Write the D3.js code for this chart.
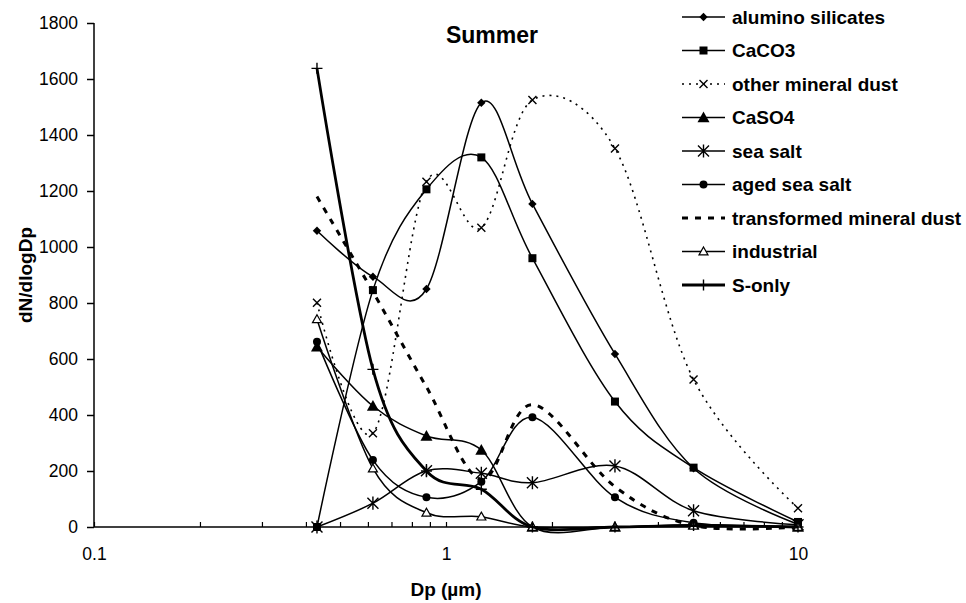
<!DOCTYPE html>
<html>
<head>
<meta charset="utf-8">
<script src="https://cdn.jsdelivr.net/npm/d3@7/dist/d3.min.js"></script>
<style>
  html, body { margin: 0; padding: 0; background: #fff; }
  svg { display: block; font-family: "Liberation Sans", Arial, sans-serif; }
</style>
</head>
<body>
<svg id="chart" width="966" height="603"></svg>
<script>
// ---- data ----
const dp = [0.43, 0.62, 0.88, 1.26, 1.76, 3.02, 5.05, 10];
const aluminoSilicates = [1058, 894, 850, 1515, 1154, 618, 210, 10];
const caco3 = [0, 846, 1206, 1320, 960, 448, 212, 18];
const otherMineralDust = [801, 335, 1233, 1069, 1525, 1352, 527, 67];
const caso4 = [644, 432, 325, 275, 0, 0, 8, 0];
const seaSalt = [0, 85, 201, 192, 158, 218, 58, 8];
const agedSeaSalt = [662, 239, 106, 162, 392, 106, 15, 3];
const transformedMineralDust = [1180, 840, 500, 170, 437, 144, 5, 0];
const industrial = [742, 209, 51, 37, 0, 0, 5, 0];
const sOnly = [1638, 563, 200, 135, 0, 0, 5, 0];
const seriesNames = ["alumino silicates", "CaCO3", "other mineral dust", "CaSO4", "sea salt",
  "aged sea salt", "transformed mineral dust", "industrial", "S-only"];
const yTicks = [0, 200, 400, 600, 800, 1000, 1200, 1400, 1600, 1800];
const xTickLabels = [0.1, 1, 10];
const chartTitle = "Summer";
const xTitle = "Dp (µm)";
const yTitle = "dN/dlogDp";

const seriesValues = [aluminoSilicates, caco3, otherMineralDust, caso4, seaSalt,
  agedSeaSalt, transformedMineralDust, industrial, sOnly];
const styles = [
  {marker: "diamond", width: 1.5, dash: null},
  {marker: "square", width: 1.5, dash: null},
  {marker: "x", width: 1.6, dash: "2,5"},
  {marker: "triangle", width: 1.5, dash: null},
  {marker: "star", width: 1.5, dash: null},
  {marker: "circle", width: 1.5, dash: null},
  {marker: "none", width: 3, dash: "6,7"},
  {marker: "opentriangle", width: 1.5, dash: null},
  {marker: "plus", width: 2.8, dash: null}
];

const svg = d3.select("#chart");
const x = d3.scaleLog().domain([0.1, 10]).range([94, 798]);
const y = d3.scaleLinear().domain([0, 1800]).range([527, 23]);

// y axis
const yAxis = d3.axisLeft(y).tickValues(yTicks).tickSize(7).tickPadding(9).tickFormat(d3.format("d"));
const gy = svg.append("g").attr("transform", `translate(${x(0.1)},0)`).call(yAxis);
gy.selectAll("text").attr("font-size", 17.5).attr("font-family", "Liberation Sans, Arial, sans-serif").attr("fill", "#000");
gy.selectAll("line, path").attr("stroke", "#000").attr("stroke-width", 1.5);
gy.select(".domain").attr("d", `M0,${y(0)}V${y(1800)}`);

// x axis (log, minor ticks inside)
const allTicks = x.ticks();
const xAxis = d3.axisBottom(x).tickValues(allTicks).tickSize(-5).tickPadding(21)
  .tickFormat(d => xTickLabels.includes(+d.toPrecision(3)) ? String(+d.toPrecision(3)) : "");
const gx = svg.append("g").attr("transform", `translate(0,${y(0)})`).call(xAxis);
gx.selectAll("text").attr("font-size", 17.5).attr("font-family", "Liberation Sans, Arial, sans-serif").attr("fill", "#000");
gx.selectAll("line").attr("stroke", "#000").attr("stroke-width", 1.2);
gx.select(".domain").attr("stroke", "#000").attr("stroke-width", 1.5).attr("d", `M${x(0.1)},0H${x(10)}`);

// lines
const line = d3.line().x(d => x(d[0])).y(d => y(d[1])).curve(d3.curveCardinal.tension(0));

function drawMarker(g, type, cx, cy) {
  if (type === "diamond") {
    const s = 4.2;
    g.append("path").attr("d", `M${cx},${cy - s}L${cx + s},${cy}L${cx},${cy + s}L${cx - s},${cy}Z`).attr("fill", "#000");
  } else if (type === "square") {
    g.append("rect").attr("x", cx - 4).attr("y", cy - 4).attr("width", 8).attr("height", 8).attr("fill", "#000");
  } else if (type === "x") {
    const s = 4;
    g.append("path").attr("d", `M${cx - s},${cy - s}L${cx + s},${cy + s}M${cx - s},${cy + s}L${cx + s},${cy - s}`)
      .attr("stroke", "#000").attr("stroke-width", 1.4).attr("fill", "none");
  } else if (type === "triangle") {
    const s = 6;
    g.append("path").attr("d", `M${cx},${cy - s}L${cx + s},${cy + s * 0.8}L${cx - s},${cy + s * 0.8}Z`).attr("fill", "#000");
  } else if (type === "opentriangle") {
    const s = 4.5;
    g.append("path").attr("d", `M${cx},${cy - s}L${cx + s},${cy + s * 0.75}L${cx - s},${cy + s * 0.75}Z`)
      .attr("fill", "#fff").attr("stroke", "#000").attr("stroke-width", 1.2);
  } else if (type === "circle") {
    g.append("circle").attr("cx", cx).attr("cy", cy).attr("r", 4).attr("fill", "#000");
  } else if (type === "star") {
    const s = 5.5;
    g.append("path").attr("d",
      `M${cx - s},${cy - s}L${cx + s},${cy + s}M${cx - s},${cy + s}L${cx + s},${cy - s}M${cx},${cy - s * 1.2}L${cx},${cy + s * 1.2}`)
      .attr("stroke", "#000").attr("stroke-width", 1.4).attr("fill", "none");
  } else if (type === "plus") {
    const s = 5.5;
    g.append("path").attr("d", `M${cx - s},${cy}L${cx + s},${cy}M${cx},${cy - s}L${cx},${cy + s}`)
      .attr("stroke", "#000").attr("stroke-width", 1.4).attr("fill", "none");
  }
}

const plot = svg.append("g");
seriesValues.forEach((vals, i) => {
  const st = styles[i];
  const pts = dp.map((d, j) => [d, vals[j]]);
  const g = plot.append("g");
  g.append("path").attr("d", line(pts)).attr("fill", "none").attr("stroke", "#000")
    .attr("stroke-width", st.width).attr("stroke-dasharray", st.dash);
  pts.forEach(p => drawMarker(g, st.marker, x(p[0]), y(p[1])));
});

// legend
const leg = svg.append("g");
seriesNames.forEach((name, i) => {
  const st = styles[i];
  const ly = 17 + i * 33.5;
  const g = leg.append("g");
  g.append("line").attr("x1", 682).attr("x2", 725).attr("y1", ly).attr("y2", ly)
    .attr("stroke", "#000").attr("stroke-width", st.width).attr("stroke-dasharray", st.dash);
  drawMarker(g, st.marker, 703.5, ly);
  g.append("text").attr("x", 732).attr("y", ly).attr("dy", "0.35em")
    .attr("font-size", 19).attr("font-weight", "bold").attr("fill", "#000").text(name);
});

// titles
svg.append("text").attr("x", 492).attr("y", 43).attr("text-anchor", "middle")
  .attr("font-size", 23).attr("font-weight", "bold").text(chartTitle);
svg.append("text").attr("x", 446).attr("y", 596).attr("text-anchor", "middle")
  .attr("font-size", 19).attr("font-weight", "bold").text(xTitle);
svg.append("text").attr("transform", "translate(32,275) rotate(-90)").attr("text-anchor", "middle")
  .attr("font-size", 19).attr("font-weight", "bold").text(yTitle);
</script>
</body>
</html>
